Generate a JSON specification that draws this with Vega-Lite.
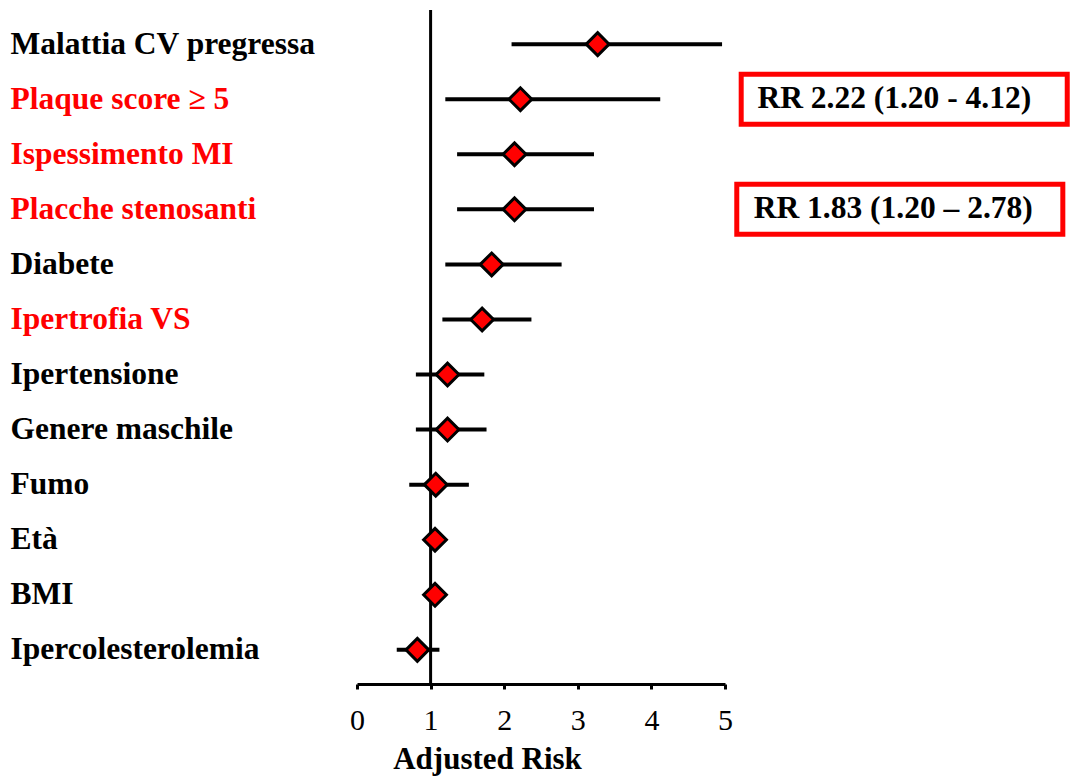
{
  "$schema": "https://vega.github.io/schema/vega-lite/v6.json",
  "autosize": "none",
  "padding": {"left": 357, "top": 10, "right": 347, "bottom": 92},
  "width": 368,
  "height": 674,
  "background": "white",
  "config": {"view": {"stroke": null}},
  "datasets": {
    "rows": [
      {"fattore": "Malattia CV pregressa", "rr": 3.27, "lo": 2.10, "hi": 4.96},
      {"fattore": "Plaque score ≥ 5", "rr": 2.22, "lo": 1.20, "hi": 4.12},
      {"fattore": "Ispessimento MI", "rr": 2.14, "lo": 1.36, "hi": 3.22},
      {"fattore": "Placche stenosanti", "rr": 2.14, "lo": 1.36, "hi": 3.22},
      {"fattore": "Diabete", "rr": 1.83, "lo": 1.20, "hi": 2.78},
      {"fattore": "Ipertrofia VS", "rr": 1.70, "lo": 1.16, "hi": 2.37},
      {"fattore": "Ipertensione", "rr": 1.23, "lo": 0.80, "hi": 1.73},
      {"fattore": "Genere maschile", "rr": 1.23, "lo": 0.80, "hi": 1.76},
      {"fattore": "Fumo", "rr": 1.07, "lo": 0.71, "hi": 1.52},
      {"fattore": "Età", "rr": 1.06, "lo": 1.02, "hi": 1.10},
      {"fattore": "BMI", "rr": 1.06, "lo": 1.02, "hi": 1.10},
      {"fattore": "Ipercolesterolemia", "rr": 0.82, "lo": 0.54, "hi": 1.12}
    ],
    "boxes": [
      {"fattore": "Plaque score ≥ 5", "x0": 5.22, "x1": 9.65, "tx": 5.44, "testo": "RR 2.22 (1.20 - 4.12)"},
      {"fattore": "Placche stenosanti", "x0": 5.16, "x1": 9.59, "tx": 5.39, "testo": "RR 1.83 (1.20 – 2.78)"}
    ],
    "riferimento": [{"rr": 1}]
  },
  "layer": [
    {
      "data": {"name": "riferimento"},
      "mark": {"type": "rule", "color": "black", "strokeWidth": 3},
      "encoding": {"x": {"field": "rr", "type": "quantitative"}}
    },
    {
      "data": {"name": "rows"},
      "mark": {"type": "rule", "color": "black", "strokeWidth": 4},
      "encoding": {
        "y": {
          "field": "fattore", "type": "nominal", "sort": null,
          "scale": {"type": "point", "padding": 0.62},
          "axis": {
            "title": null, "domain": false, "ticks": false, "grid": false,
            "labelAlign": "left", "labelPadding": 347, "labelLimit": 400,
            "labelFont": "Liberation Serif", "labelFontWeight": "bold", "labelFontSize": 31.5,
            "labelBaseline": "middle",
            "labelColor": {
              "condition": {"test": "indexof(['Plaque score ≥ 5','Ispessimento MI','Placche stenosanti','Ipertrofia VS'], datum.value) >= 0", "value": "#ff0000"},
              "value": "black"
            }
          }
        },
        "x": {
          "field": "lo", "type": "quantitative",
          "scale": {"domain": [0, 5], "nice": false, "zero": false},
          "axis": {
            "values": [0, 1, 2, 3, 4, 5], "format": "d", "grid": false,
            "labelFlush": false, "labelOverlap": false,
            "domainColor": "black", "domainWidth": 3,
            "tickColor": "black", "tickWidth": 3, "tickSize": 5,
            "labelFont": "Liberation Serif", "labelFontSize": 30, "labelColor": "black",
            "labelPadding": 16,
            "title": "Adjusted Risk",
            "titleFont": "Liberation Serif", "titleFontSize": 31, "titleFontWeight": "bold",
            "titleColor": "black", "titleX": 130, "titleY": 84,
            "titleAlign": "center", "titleBaseline": "alphabetic"
          }
        },
        "x2": {"field": "hi"}
      }
    },
    {
      "data": {"name": "rows"},
      "mark": {"type": "point", "shape": "diamond", "filled": true, "fill": "#ff0000", "stroke": "black", "strokeWidth": 3, "size": 520, "opacity": 1},
      "encoding": {
        "y": {"field": "fattore", "type": "nominal", "sort": null},
        "x": {"field": "rr", "type": "quantitative"}
      }
    },
    {
      "data": {"name": "boxes"},
      "mark": {"type": "bar", "orient": "horizontal", "size": 50, "fill": "white", "stroke": "#ff0000", "strokeWidth": 5},
      "encoding": {
        "y": {"field": "fattore", "type": "nominal", "sort": null},
        "x": {"field": "x0", "type": "quantitative"},
        "x2": {"field": "x1"}
      }
    },
    {
      "data": {"name": "boxes"},
      "mark": {"type": "text", "align": "left", "baseline": "middle", "font": "Liberation Serif", "fontWeight": "bold", "fontSize": 31.5, "color": "black"},
      "encoding": {
        "y": {"field": "fattore", "type": "nominal", "sort": null},
        "x": {"field": "tx", "type": "quantitative"},
        "text": {"field": "testo"}
      }
    }
  ]
}
